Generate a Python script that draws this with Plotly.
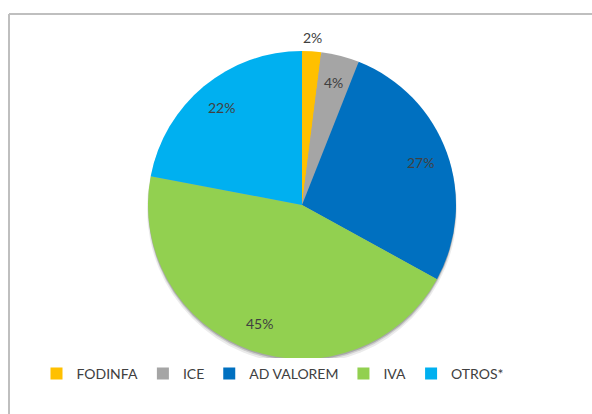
import math
import plotly.graph_objects as go

categories = ["FODINFA", "ICE", "AD VALOREM", "IVA", "OTROS*"]
values = [2, 4, 27, 45, 22]
colors = ["#FFC000", "#A5A5A5", "#0070C0", "#92D050", "#00B0F0"]
label_outside = [True, False, False, False, False]

W, H = 592, 414
cx, cy, r = 302, 205, 154
FONT = "Lato, Open Sans, sans-serif"
TXT = "#404040"

fig = go.Figure(go.Pie(
    labels=categories,
    values=values,
    sort=False,
    direction="clockwise",
    rotation=0,
    marker=dict(colors=colors, line=dict(width=0)),
    textinfo="none",
    domain=dict(x=[(cx - r) / W, (cx + r) / W], y=[(H - cy - r) / H, (H - cy + r) / H]),
    automargin=False,
))

# percentage labels placed along each slice's mid-angle (Excel-like positions)
total = sum(values)
annotations = []
cum = 0
for v, outside in zip(values, label_outside):
    mid = (cum + v / 2) / total * 2 * math.pi
    cum += v
    rr = r * 1.09 if outside else r * 0.82
    px = cx + rr * math.sin(mid)
    py = cy - rr * math.cos(mid)
    annotations.append(dict(
        x=px / W, y=1 - py / H, xref="paper", yref="paper",
        text=f"{round(v / total * 100)}%", showarrow=False,
        font=dict(family=FONT, size=14, color=TXT),
        xanchor="center", yanchor="middle",
    ))


def circle(dx, dy, rad, color):
    return dict(type="circle", xref="paper", yref="paper", layer="below",
                x0=(cx + dx - rad) / W, x1=(cx + dx + rad) / W,
                y0=1 - (cy + dy + rad) / H, y1=1 - (cy + dy - rad) / H,
                line=dict(width=0), fillcolor=color)


shapes = [
    # chart-area frame: only left and top edges are visible in the image
    dict(type="line", xref="paper", yref="paper",
         x0=9 / W, x1=9 / W, y0=0, y1=1 - 14 / H,
         line=dict(color="#BFBFBF", width=2), layer="below"),
    dict(type="line", xref="paper", yref="paper",
         x0=9 / W, x1=1, y0=1 - 14 / H, y1=1 - 14 / H,
         line=dict(color="#BFBFBF", width=2), layer="below"),
    circle(0, 4, r + 1, "rgba(0,0,0,0.08)"),
    circle(0, 3, r, "rgba(0,0,0,0.12)"),
    circle(0, 1.5, r, "rgba(0,0,0,0.18)"),
]

fig.update_layout(
    width=W, height=H,
    margin=dict(l=0, r=0, t=0, b=0),
    paper_bgcolor="white",
    showlegend=True,
    legend=dict(
        orientation="h", x=273 / W, xanchor="center",
        y=(H - 374) / H, yanchor="middle",
        font=dict(family=FONT, size=14, color=TXT),
        itemwidth=30,
    ),
    annotations=annotations,
    shapes=shapes,
)

fig.write_html(
    "out.html",
    config={"displayModeBar": False},
    post_script="document.body.style.margin='0';document.body.style.overflow='hidden';"
                "document.documentElement.style.overflow='hidden';",
)
